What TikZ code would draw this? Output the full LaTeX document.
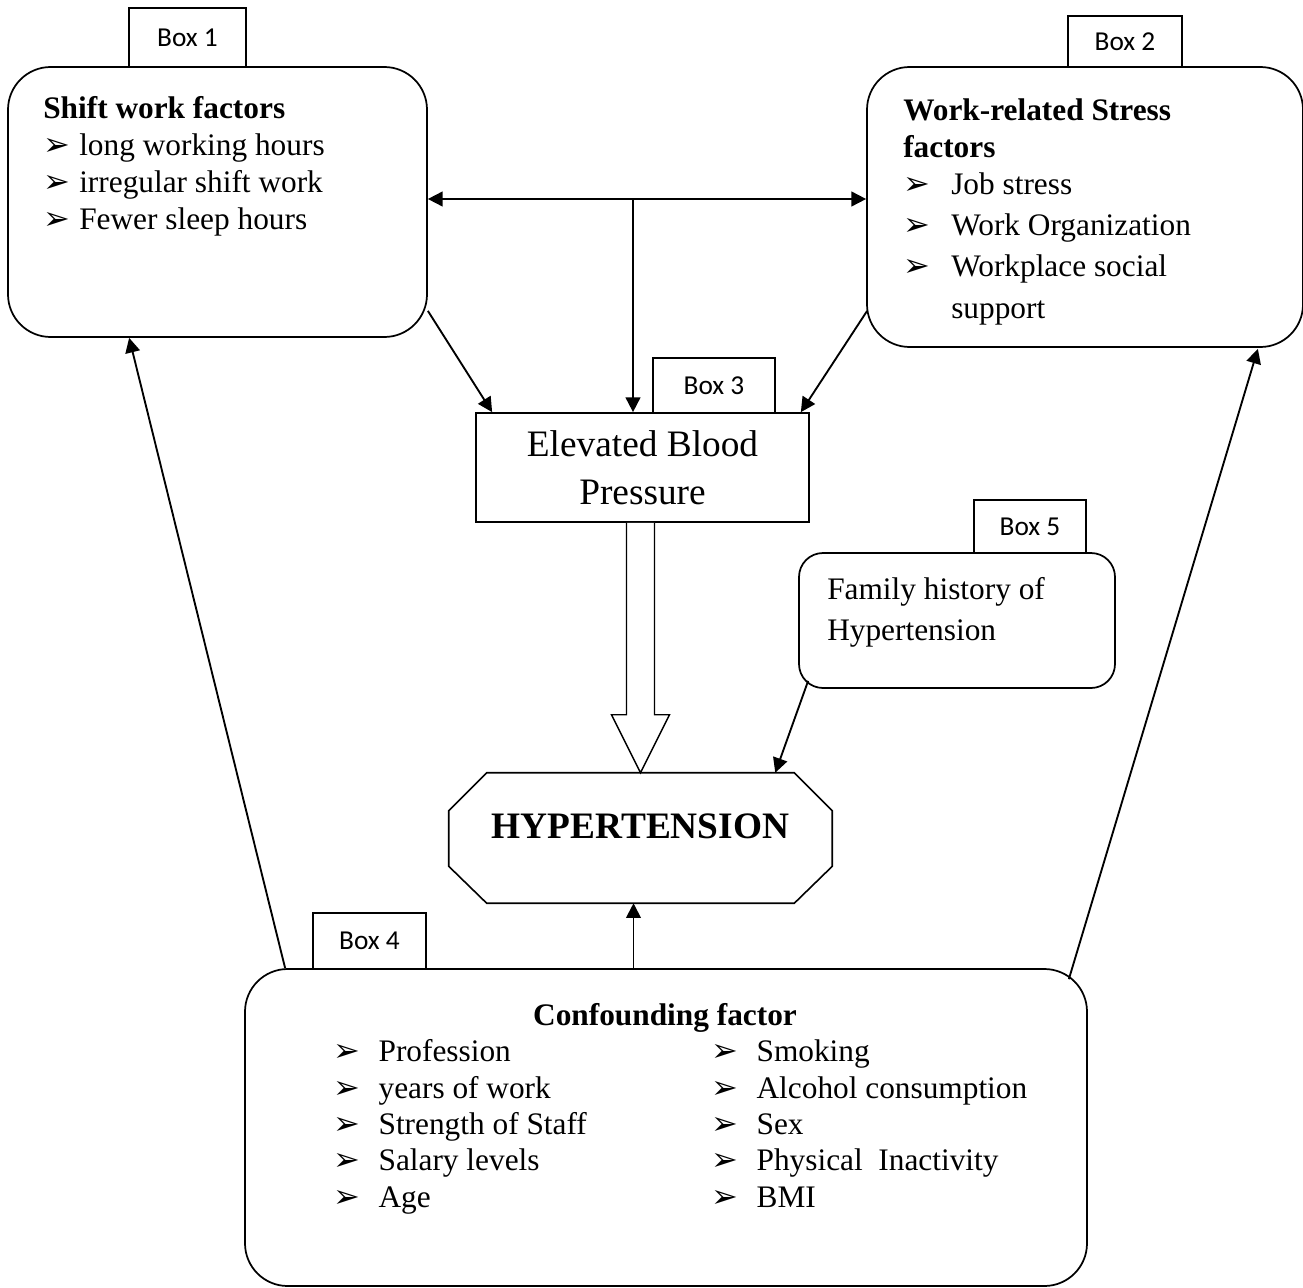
\documentclass[tikz,border=0pt]{standalone}
\usepackage{fontspec}
\setmainfont{Liberation Serif}
\newfontfamily\boxfont{Carlito}
\newfontfamily\dingfont{DejaVu Sans}
\usetikzlibrary{arrows.meta,calc}

\newcommand{\itm}[1]{\makebox[#1][l]{\dingfont\fontsize{24}{24}\selectfont ➢}}

\begin{document}
\begin{tikzpicture}[
  x=0.75pt, y=-0.75pt,
  bigbox/.style={draw,line width=1.3pt,rounded corners=32pt},
  tab/.style={draw,line width=1pt,fill=white,inner sep=0pt,font=\boxfont\fontsize{20.5}{24}\selectfont},
  body/.style={font=\fontsize{23.5}{27.75}\selectfont,align=left,anchor=base west,inner sep=0pt},
  arrow/.style={-{Triangle[length=11pt,width=11pt]},line width=1.4pt},
  hollow/.style={line width=1.1pt,fill=white}
]
\useasboundingbox (0,0) rectangle (1303,1288);

% label tabs
\node[tab,minimum width=87.75pt,minimum height=44.25pt] (tab1) at (187.5,37.5) {Box 1};
\node[tab,minimum width=85.5pt,minimum height=38.25pt] (tab2) at (1125,41.5) {Box 2};
\node[tab,minimum width=91.5pt,minimum height=41.25pt] (tab3) at (714,385.5) {Box 3};
\node[tab,minimum width=84.75pt,minimum height=42pt] (tab4) at (369.5,941) {Box 4};
\node[tab,minimum width=84pt,minimum height=39.75pt] (tab5) at (1030,526.5) {Box 5};

% boxes
\node[bigbox,minimum width=314.25pt,minimum height=202.5pt] (shift) at (217.5,202) {};
\node[bigbox,minimum width=327pt,minimum height=210pt] (stress) at (1085,207) {};
\node[draw,line width=1.3pt,minimum width=249.75pt,minimum height=81.75pt,align=center,
  font=\fontsize{28}{36}\selectfont] (bp) at (642.5,467.5) {Elevated Blood\\Pressure};
\node[bigbox,rounded corners=18pt,minimum width=237pt,minimum height=101.25pt] (family) at (957,620.5) {};
\node[minimum width=287.25pt,minimum height=97.5pt,text height=20pt,text depth=20pt,
  font=\bfseries\fontsize{28}{32}\selectfont] (hyper) at (640.5,838) {HYPERTENSION};
\draw[line width=1.2pt] ($(hyper.north west)+(38,0)$) -- ($(hyper.north east)+(-38,0)$) -- ($(hyper.north east)+(0,38)$)
  -- ($(hyper.south east)+(0,-37)$) -- ($(hyper.south east)+(-38,0)$) -- ($(hyper.south west)+(38,0)$)
  -- ($(hyper.south west)+(0,-37)$) -- ($(hyper.north west)+(0,38)$) -- cycle;
\node[bigbox,minimum width=631.5pt,minimum height=237.75pt] (confound) at (666,1127.5) {};

% texts
\node[body] (shifttxt) at (43,229) {\textbf{Shift work factors}\\
  \itm{27pt}long working hours\\
  \itm{27pt}irregular shift work\\
  \itm{27pt}Fewer sleep hours};
\node[body] (stresshead) at (903,157) {\textbf{Work-related Stress}\\\textbf{factors}};
\node[body,font=\fontsize{23.5}{31}\selectfont] (stresstxt) at (903,318) {\itm{36pt}Job stress\\
  \itm{36pt}Work Organization\\
  \itm{36pt}Workplace social\\
  \hspace*{36pt}support};
\node[body,font=\fontsize{23.5}{30.75}\selectfont] (familytxt) at (827,640) {Family history of\\Hypertension};
\node[body,anchor=base] (confhead) at (665,1025) {\textbf{Confounding factor}};
\node[body,font=\fontsize{23.5}{27.2}\selectfont] (confleft) at (333,1207) {\itm{34pt}Profession\\
  \itm{34pt}years of work\\
  \itm{34pt}Strength of Staff\\
  \itm{34pt}Salary levels\\
  \itm{34pt}Age};
\node[body,font=\fontsize{23.5}{27.2}\selectfont] (confright) at (711,1207) {\itm{34pt}Smoking\\
  \itm{34pt}Alcohol consumption\\
  \itm{34pt}Sex\\
  \itm{34pt}Physical~ Inactivity\\
  \itm{34pt}BMI};

% connectors
\coordinate (split) at (633,199);
\draw[arrow,{Triangle[length=11pt,width=11pt]}-{Triangle[length=11pt,width=11pt]}] (shift.east |- split) -- (stress.west |- split);
\draw[arrow] (split) -- (split |- bp.north);
\draw[arrow] ($(shift.south east)+(0,-27)$) -- ($(bp.north west)+(17,0)$);
\draw[arrow] ($(stress.south west)+(1,-37)$) -- ($(bp.north east)+(-9,0)$);
\draw[hollow] ($(hyper.north |- bp.south)+(-14,0)$) -- ($(hyper.north)+(-14,-58)$) -- ($(hyper.north)+(-29,-58)$)
  -- (hyper.north) -- ($(hyper.north)+(29,-58)$) -- ($(hyper.north)+(14,-58)$) -- ($(hyper.north |- bp.south)+(14,0)$);
\draw[arrow] ($(family.south west)+(10,-8)$) -- ($(hyper.north east)+(-57,0)$);
\draw[arrow] ($(hyper.south |- confound.north)+(-7,0)$) -- ($(hyper.south)+(-7,0)$);
\draw[arrow] ($(confound.north west)+(41,0)$) -- ($(shift.south west)+(122,0)$);
\draw[arrow] ($(confound.north east)+(-19,11)$) -- ($(stress.south east)+(-46,1)$);
\end{tikzpicture}
\end{document}
